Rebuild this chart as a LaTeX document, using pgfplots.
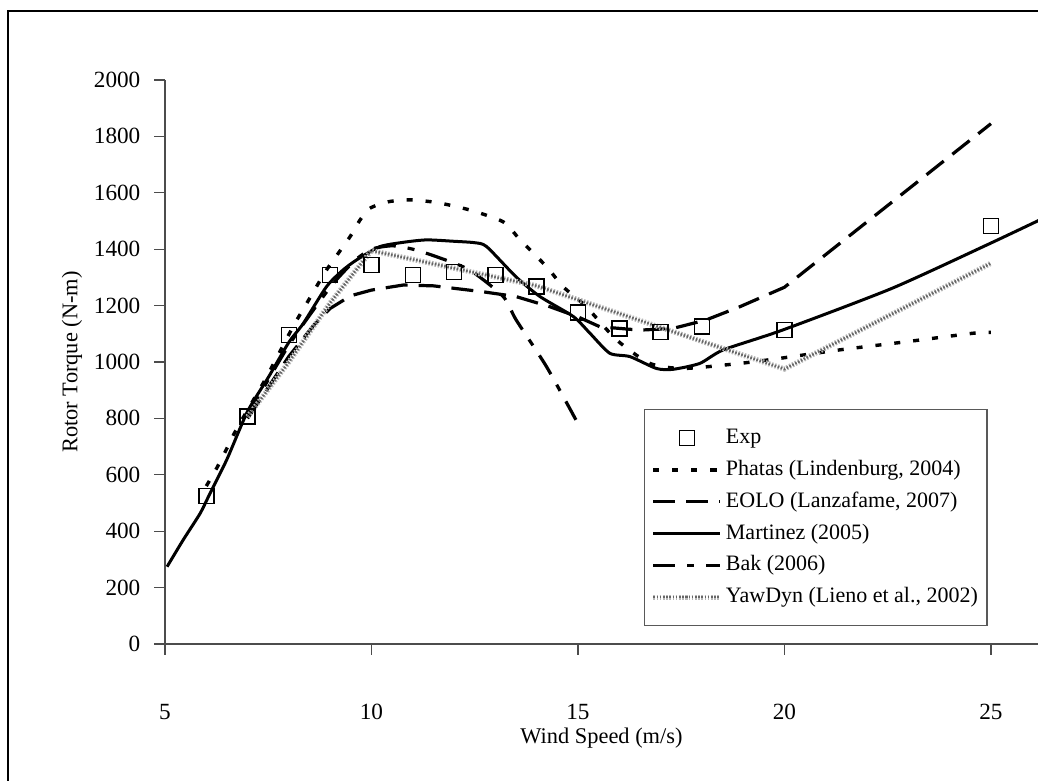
\documentclass[border=0pt]{standalone}
\usepackage{fontspec}
\setmainfont{Liberation Serif}
\usepackage{pgfplots}
\pgfplotsset{compat=1.18}
\begin{document}
\begin{tikzpicture}
\useasboundingbox (0,0) rectangle (519pt,390.5pt);
\draw[line width=1pt] (4pt,-10pt) -- (4pt,385pt) -- (530pt,385pt);
\begin{axis}[
  at={(82.5pt,68.5pt)}, anchor=south west,
  scale only axis, width=436.5pt, height=282pt,
  xmin=5, xmax=26.14, ymin=0, ymax=2000,
  axis x line*=bottom, axis y line*=left,
  xtick={5,10,15,20,25}, ytick={0,200,...,2000},
  tick align=outside, major tick length=5.5pt,
  tick style={gray!60!black, line width=0.6pt},
  axis line style={gray!60!black, line width=0.8pt},
  /pgf/number format/assume math mode=true,
  /pgf/number format/1000 sep={},
  ticklabel style={font=\fontsize{11.6}{13}\selectfont},
  xticklabel style={anchor=center, yshift=-28.5pt},
  yticklabel style={xshift=-3.3pt},
  xlabel={Wind Speed (m/s)}, ylabel={Rotor Torque (N-m)},
  every axis x label/.style={at={(axis description cs:0.5,0)}, anchor=center, yshift=-47pt, font=\fontsize{11.2}{13}\selectfont},
  every axis y label/.style={at={(axis description cs:-0.1065,0.5)}, anchor=center, rotate=90, font=\fontsize{11.2}{13}\selectfont},
  legend image code/.code={\draw[mark repeat=2,mark phase=2,#1] plot coordinates {(0pt,0pt) (16.75pt,0pt) (33.5pt,0pt)};},
  legend style={at={(0.5487,0.4167)}, anchor=north west, draw=gray!70!black, line width=0.7pt, fill=white,
    font=\fontsize{11}{13}\selectfont, inner xsep=3pt, inner ysep=9pt, row sep=5.4pt,
    cells={anchor=west}, nodes={inner xsep=1.5pt, inner ysep=0pt, text height=8pt, text depth=2.5pt}},
]
\addplot[only marks, mark=square, mark size=3.75pt, mark options={line width=0.75pt, black}] coordinates {
(6,525)(7,806)(8,1096)(9,1308)(10,1344)(11,1308)(12,1320)(13,1308)(14,1267)(15,1175)(16,1119)(17,1107)(18,1125)(20,1113)(25,1483)};
\addlegendentry{Exp}
\addplot[black, line width=1.7pt, dash pattern=on 3pt off 6.5pt, smooth, tension=0.4] coordinates {
(6.0,560)(6.25,623)(6.5,694)(6.7,753)(7.0,830)(7.42,936)(8.1,1125)(8.5,1225)(8.91,1326)(9.48,1444)(9.72,1503)(9.96,1545)(10.4,1568)(10.93,1575)(11.6,1565)(12.38,1539)(13.19,1497)(13.6,1433)(14.24,1338)(14.64,1267)(15.2,1196)(15.94,1078)(16.74,995)(17.55,977)(18.92,995)(19.89,1013)(21.34,1043)(22.96,1072)(24.57,1102)(25,1105)};
\addlegendentry{Phatas (Lindenburg, 2004)}
\addplot[black, line width=1.6pt, dash pattern=on 11pt off 5.5pt] coordinates {
(7,800)(8,1020)(8.6,1130)(9,1190)(9.5,1235)(10,1255)(10.77,1273)(11.5,1270)(12.7,1249)(13.5,1232)(14.32,1196)(15,1160)(15.53,1125)(16.5,1113)(17.3,1119)(18.1,1149)(18.92,1196)(20,1265)(25,1845)};
\addlegendentry{EOLO (Lanzafame, 2007)}
\addplot[black, line width=1.5pt, smooth, tension=0.4] coordinates {
(5.05,274)(5.44,369)(5.85,463)(6.09,534)(6.5,655)(7,825)(7.5,945)(8,1070)(8.35,1137)(8.91,1267)(9.3,1325)(9.64,1362)(10.2,1409)(10.8,1425)(11.34,1433)(12,1428)(12.5,1423)(12.79,1409)(13.5,1302)(14.08,1232)(14.89,1161)(15.29,1102)(15.77,1031)(16.26,1019)(16.9,977)(17.3,974)(17.95,995)(18.52,1043)(19.95,1113)(22.6,1261)(24.9,1415)(26.2,1505)};
\addlegendentry{Martinez (2005)}
\addplot[black, line width=1.6pt, dash pattern=on 11pt off 6pt on 3.5pt off 6pt, smooth, tension=0.4] coordinates {
(7,810)(8,1060)(9,1265)(9.6,1360)(10,1400)(10.5,1412)(11,1400)(11.58,1373)(12.38,1326)(13.19,1232)(13.5,1150)(14.24,983)(14.95,795)};
\addlegendentry{Bak (2006)}
\addplot[draw=black!60, line width=1.2pt, dash pattern=on 0.8pt off 0.8pt, preaction={draw=gray!55, line width=2.6pt}] coordinates {
(7,806)(8,1000)(9,1210)(10,1395)(14,1270)(20,975)(25,1350)};
\addlegendentry{YawDyn (Lieno et al., 2002)}
\end{axis}
\end{tikzpicture}
\end{document}
